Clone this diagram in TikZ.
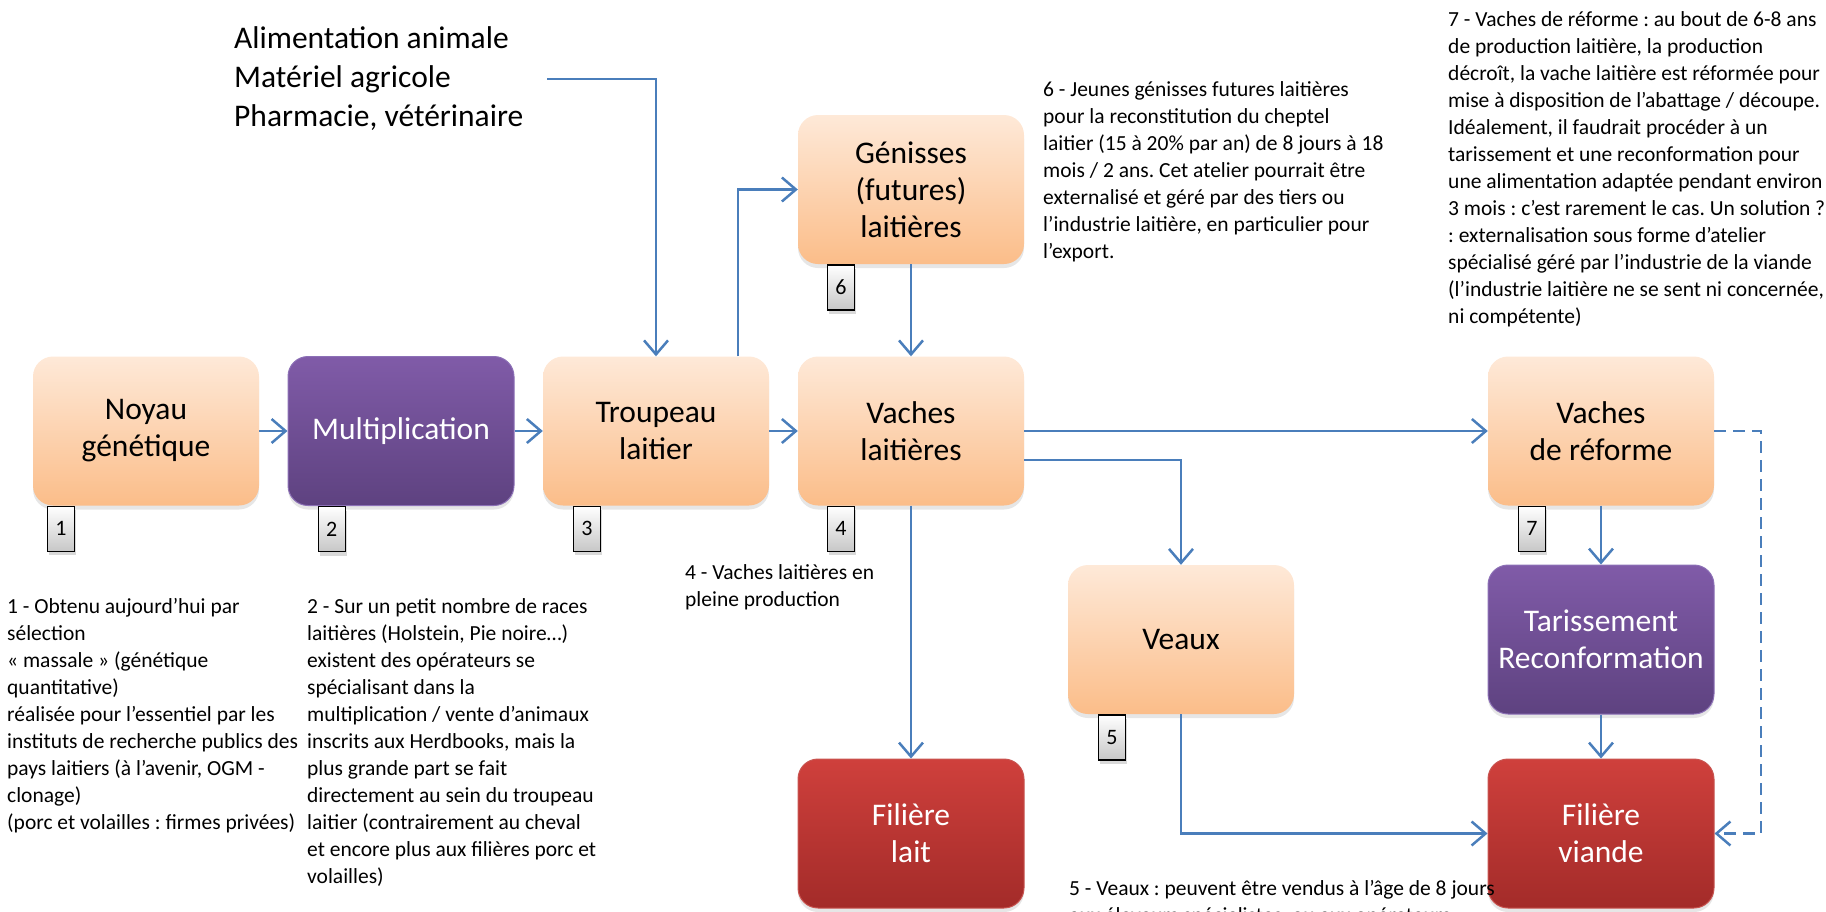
\documentclass[tikz,border=0pt]{standalone}
\usepackage{fontspec}
\setmainfont{Carlito}
\frenchspacing
\usetikzlibrary{arrows.meta,shadows}

\definecolor{linkblue}{RGB}{74,126,187}
\definecolor{peachtop}{RGB}{254,233,216}
\definecolor{peachbot}{RGB}{251,189,137}
\definecolor{violettop}{RGB}{128,91,168}
\definecolor{violetbot}{RGB}{94,66,128}
\definecolor{violetedge}{RGB}{140,112,182}
\definecolor{redtop}{RGB}{207,64,60}
\definecolor{redbot}{RGB}{163,43,41}
\definecolor{rededge}{RGB}{200,84,80}

\tikzset{
  box/.style={rounded corners=20pt, minimum width=226pt, minimum height=149pt,
    align=center, inner sep=0pt, font=\fontsize{31.5}{37}\selectfont,
    drop shadow={opacity=0.2, shadow xshift=0pt, shadow yshift=-4pt}},
  peach/.style={box, top color=peachtop, bottom color=peachbot, text=black},
  violet/.style={box, top color=violettop, bottom color=violetbot,
    draw=violetedge, line width=1pt, text=white},
  crimson/.style={box, top color=redtop, bottom color=redbot,
    draw=rededge, line width=1pt, text=white},
  badge/.style={draw=black, line width=1.3pt, top color=white, bottom color=black!22,
    minimum width=27pt, minimum height=45pt, inner sep=0pt, anchor=north west,
    font=\fontsize{22}{26}\selectfont,
    drop shadow={opacity=0.3, shadow xshift=2pt, shadow yshift=-4pt}},
  link/.style={draw=linkblue, line width=2.5pt, -{Straight Barb[length=14pt,width=24pt]}},
  anno/.style={anchor=base west, inner sep=0pt, font=\fontsize{21.5}{26}\selectfont},
  supply/.style={anchor=base west, inner sep=0pt, font=\fontsize{31.5}{37}\selectfont},
}

\begin{document}
\begin{tikzpicture}[x=1pt,y=-1pt]
\useasboundingbox (0,0) rectangle (1826,911);

% main chain of the dairy sector
\node[peach]   (noyau) at (146,431)   {Noyau\\génétique};
\node[violet]  (mult)  at (401,431)   {Multiplication};
\node[peach]   (troup) at (656,431)   {Troupeau\\laitier};
\node[peach]   (vl)    at (911,431)   {Vaches\\laitières};
\node[peach]   (gen)   at (911,189.5) {Génisses\\(futures)\\laitières};
\node[peach]   (veaux) at (1181,639.5){Veaux};
\node[crimson] (fl)    at (911,833.5) {Filière\\lait};
\node[peach]   (vr)    at (1601,431)  {Vaches\\de réforme};
\node[violet]  (tar)   at (1601,639.5){Tarissement\\Reconformation};
\node[crimson] (fv)    at (1601,833.5){Filière\\viande};

% numbered tags under the boxes
\node[badge] (b1) at ([xshift=14pt]noyau.south west) {1};
\node[badge] (b2) at ([xshift=30pt]mult.south west)  {2};
\node[badge] (b3) at ([xshift=30pt]troup.south west) {3};
\node[badge] (b4) at ([xshift=29pt]vl.south west)    {4};
\node[badge] (b6) at ([xshift=29pt]gen.south west)   {6};
\node[badge] (b5) at ([xshift=30pt]veaux.south west) {5};
\node[badge] (b7) at ([xshift=30pt]vr.south west)    {7};

% suppliers
\node[supply] (s1) at (234,48)  {Alimentation animale};
\node[supply] (s2) at (234,87)  {Matériel agricole};
\node[supply] (s3) at (234,126) {Pharmacie, vétérinaire};
\coordinate (feed) at (547,79);

% flows
\draw[link] (noyau.east) -- (mult.west);
\draw[link] (mult.east) -- (troup.west);
\draw[link] (troup.east) -- (vl.west);
\draw[link] (feed) -| (troup.north);
\draw[link] ([xshift=82pt]troup.north) |- (gen.west);
\draw[link] (gen.south) -- (vl.north);
\draw[link] (vl.east) -- (vr.west);
\draw[link] ([yshift=-29pt]vl.east) -| (veaux.north);
\draw[link] (vl.south) -- (fl.north);
\draw[link] (veaux.south) |- (fv.west);
\draw[link] (vr.south) -- (tar.north);
\draw[link] (tar.south) -- (fv.north);
\draw[link, dash pattern=on 12pt off 7pt] (vr.east) -- ++(47,0) |- (fv.east);

% notes
\foreach \ln [count=\k from 0] in {
  {1 - Obtenu aujourd’hui par},
  {sélection},
  {« massale » (génétique},
  {quantitative)},
  {réalisée pour l’essentiel par les},
  {instituts de recherche publics des},
  {pays laitiers (à l’avenir, OGM -},
  {clonage)},
  {(porc et volailles : firmes privées)}}
  \node[anno] (n1-\k) at (7,{613+27*\k}) {\ln};

\foreach \ln [count=\k from 0] in {
  {2 - Sur un petit nombre de races},
  {laitières (Holstein, Pie noire…)},
  {existent des opérateurs se},
  {spécialisant dans la},
  {multiplication / vente d’animaux},
  {inscrits aux Herdbooks, mais la},
  {plus grande part se fait},
  {directement au sein du troupeau},
  {laitier (contrairement au cheval},
  {et encore plus aux filières porc et},
  {volailles)}}
  \node[anno] (n2-\k) at (307,{613+27*\k}) {\ln};

\foreach \ln [count=\k from 0] in {
  {4 - Vaches laitières en},
  {pleine production}}
  \node[anno] (n4-\k) at (685,{579+27*\k}) {\ln};

\foreach \ln [count=\k from 0] in {
  {5 - Veaux : peuvent être vendus à l’âge de 8 jours},
  {aux éleveurs spécialistes, ou aux opérateurs}}
  \node[anno] (n5-\k) at (1069,{895+27*\k}) {\ln};

\foreach \ln [count=\k from 0] in {
  {6 - Jeunes génisses futures laitières},
  {pour la reconstitution du cheptel},
  {laitier (15 à 20\% par an) de 8 jours à 18},
  {mois / 2 ans. Cet atelier pourrait être},
  {externalisé et géré par des tiers ou},
  {l’industrie laitière, en particulier pour},
  {l’export.}}
  \node[anno] (n6-\k) at (1043,{96+27*\k}) {\ln};

\foreach \ln [count=\k from 0] in {
  {7 - Vaches de réforme : au bout de 6-8 ans},
  {de production laitière, la production},
  {décroît, la vache laitière est réformée pour},
  {mise à disposition de l’abattage / découpe.},
  {Idéalement, il faudrait procéder à un},
  {tarissement et une reconformation pour},
  {une alimentation adaptée pendant environ},
  {3 mois : c’est rarement le cas. Un solution ?},
  {: externalisation sous forme d’atelier},
  {spécialisé géré par l’industrie de la viande},
  {(l’industrie laitière ne se sent ni concernée,},
  {ni compétente)}}
  \node[anno] (n7-\k) at (1448,{26+27*\k}) {\ln};
\end{tikzpicture}
\end{document}
